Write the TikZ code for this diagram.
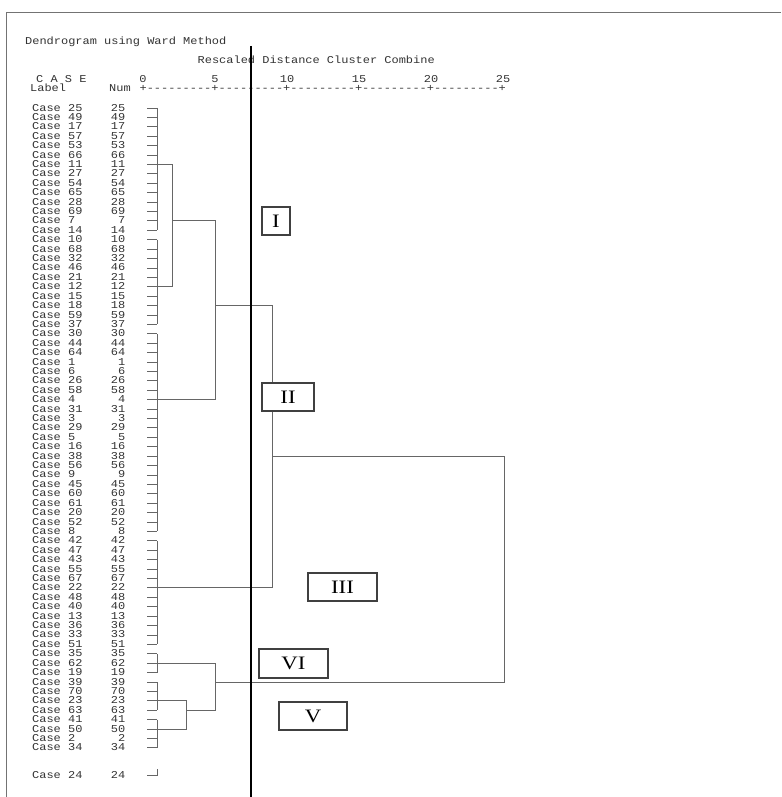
\documentclass[tikz,border=0pt]{standalone}
\usepackage{fontspec}
\newfontfamily\spssfont[FakeStretch=1.14, Ligatures=TeXOff]{Liberation Mono}
\newfontfamily\boxfont[FakeStretch=1.2]{Liberation Serif}

\begin{document}
\begin{tikzpicture}[x=1pt, y=-1pt,
    txt/.style={font=\spssfont\fontsize{10.5}{12}\selectfont, text=black!80, inner sep=0pt, anchor=base west},
    num/.style={txt, anchor=base east},
    link/.style={draw=black!60, line width=0.9pt},
    clusterbox/.style={draw=black!75, line width=1.1pt, fill=white, inner sep=0pt, minimum height=28pt, font=\boxfont\fontsize{19}{20}\selectfont}]
        \useasboundingbox (0,0) rectangle (781,797);

        % Define the first row and the row spacing
        \def\ytop{108}
        \def\dy{9.41}

        % Draw the frame
        \coordinate (f1) at (6,797);
        \coordinate (f2) at (6,12.5);
        \coordinate (f3) at (781,12.5);
        \draw[draw=black!55, line width=1pt] (f1) -- (f2) -- (f3);

        % Header of the output
        \node[txt] (title) at (25,45) {Dendrogram using Ward Method};
        \node[txt] (rescaled) at (197.5,64) {Rescaled Distance Cluster Combine};
        \node[txt] (case) at (36,83) {C A S E};
        \node[txt] (label) at (30,92) {Label};
        \node[txt] (num) at (109,92) {Num};
        \foreach \d [count=\j from 0] in {0,5,10,15,20,25}
          \node[txt, anchor=base] (d\d) at ({143+72*\j},83) {\d};
        \node[txt] (axis) at (139.4,92) {+---------+---------+---------+---------+---------+};

        % Case labels, numbers and their ticks
        \foreach \n [count=\k from 0] in {25,49,17,57,53,66,11,27,54,65,28,69,7,14,10,68,32,46,21,12,15,18,59,37,30,44,64,1,6,26,58,4,31,3,29,5,16,38,56,9,45,60,61,20,52,8,42,47,43,55,67,22,48,40,13,36,33,51,35,62,19,39,70,23,63,41,50,2,34}
        {
          \node[txt] (c\n) at (32,{\ytop+\dy*\k+3}) {Case \n};
          \node[num] (n\n) at (125.5,{\ytop+\dy*\k+3}) {\n};
          \coordinate (t\n) at (147,{\ytop+\dy*\k});
          \coordinate (v\n) at (157,{\ytop+\dy*\k});
          \draw[link] (t\n) -- (v\n);
        }

        % The last case stands apart
        \node[txt] (c24) at (32,778) {Case 24};
        \node[num] (n24) at (125.5,778) {24};
        \coordinate (t24) at (147,775);
        \coordinate (v24) at (157,775);
        \coordinate (s24) at (157,769);
        \draw[link] (t24) -- (v24) -- (s24);

        % Distance levels of the merges
        \coordinate (x1) at (172,0);
        \coordinate (x2) at (186,0);
        \coordinate (x3) at (215,0);
        \coordinate (x4) at (272,0);
        \coordinate (x5) at (504,0);

        % Groups of cases
        \draw[link] (v25) -- (v14);
        \draw[link] (v10) -- (v37);
        \draw[link] (v30) -- (v8);
        \draw[link] (v42) -- (v51);
        \draw[link] (v35) -- (v19);
        \draw[link] (v39) -- (v63);
        \draw[link] (v41) -- (v34);

        % Merges of the groups
        \draw[link] (v11) -- (v11 -| x1) -- (v12 -| x1) -- (v12);
        \draw[link] (v7 -| x1) -- (v7 -| x3) -- (v4 -| x3) -- (v4);
        \draw[link] (v18 -| x3) -- (v18 -| x4) -- (v22 -| x4) -- (v22);
        \draw[link] (v23) -- (v23 -| x2) -- (v50 -| x2) -- (v50);
        \draw[link] (v62) -- (v62 -| x3) -- (v63 -| x3) -- (v63 -| x2);
        \draw[link] (v38 -| x4) -- (v38 -| x5) -- (v39 -| x5) -- (v39 -| x3);

        % Cut line
        \coordinate (cutTop) at (250.5,46);
        \coordinate (cutBot) at (250.5,797);
        \draw[line width=2pt] (cutTop) -- (cutBot);

        % Cluster boxes
        \node[clusterbox, minimum width=28pt] (bI) at (276,221) {I};
        \node[clusterbox, minimum width=52pt] (bII) at (288,397) {II};
        \node[clusterbox, minimum width=69pt] (bIII) at (342.5,587) {III};
        \node[clusterbox, minimum width=69pt, minimum height=29pt] (bVI) at (293.5,663.5) {VI};
        \node[clusterbox, minimum width=68pt] (bV) at (313,716) {V};
      \end{tikzpicture}
\end{document}
